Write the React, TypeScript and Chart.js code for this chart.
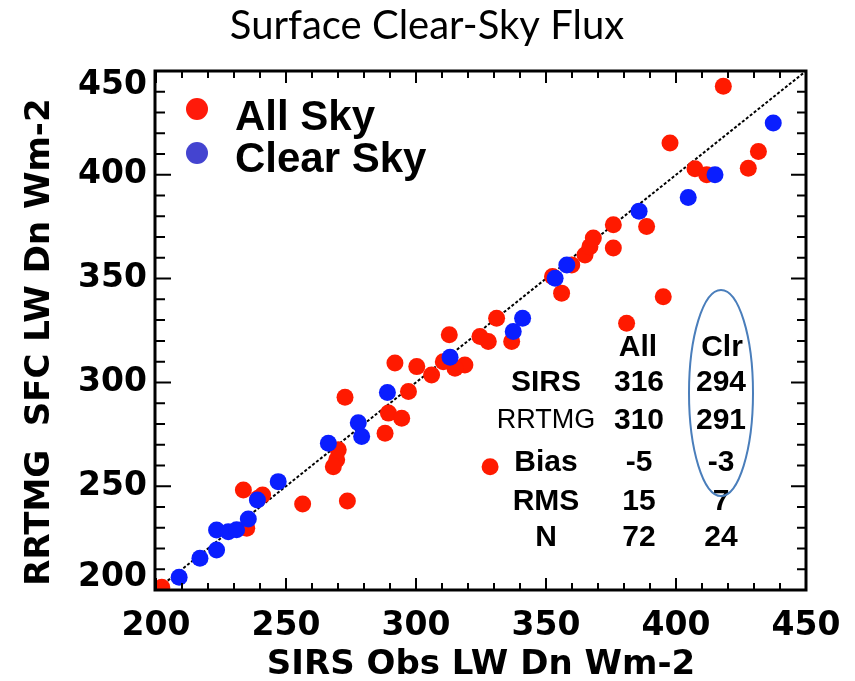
import React, { useEffect, useRef } from "react";
import { Chart, registerables } from "chart.js";

Chart.register(...registerables);

// Clear-sky points (SIRS obs, RRTMG)
const clearX = [208.9, 216.9, 223.3, 223.3, 227.8, 231.0, 235.5, 239.0, 247.0, 266.3, 277.8, 279.1, 289.0, 313.1, 337.4, 341.0, 353.5, 358.0, 385.8, 404.7, 415.0, 437.4];
const clearY = [206.1, 215.3, 219.3, 228.9, 228.1, 229.0, 234.2, 243.4, 252.2, 270.7, 280.6, 273.9, 295.1, 312.1, 324.5, 330.9, 350.2, 356.6, 382.5, 389.1, 400.0, 424.9];

// All-sky points
const allX = [202.2, 234.9, 239.3, 241.0, 233.6, 256.4, 273.6, 269.5, 268.2, 270.1, 272.7, 288.1, 289.4, 294.5, 297.1, 291.9, 300.3, 306.0, 310.5, 318.8, 315.0, 312.8, 324.6, 327.8, 331.0, 328.5, 336.8, 381.0, 356.0, 352.5, 359.9, 365.0, 366.9, 368.2, 375.9, 375.9, 388.7, 395.1, 397.7, 407.3, 411.8, 418.2, 427.8, 431.7];
const allY = [201.3, 229.7, 244.2, 245.8, 248.2, 241.4, 242.9, 262.7, 259.4, 267.5, 292.9, 275.5, 285.2, 282.7, 295.6, 309.3, 307.6, 303.6, 310.0, 308.4, 306.8, 322.9, 322.1, 319.7, 330.9, 259.4, 319.7, 328.5, 343.0, 351.0, 356.6, 361.4, 365.4, 369.5, 364.7, 375.9, 375.1, 341.3, 415.3, 402.9, 400.0, 442.6, 403.2, 411.2];

const diagX = [200, 450];
const xTickLabels = [200, 250, 300, 350, 400, 450];
const yTickLabels = [200, 250, 300, 350, 400, 450];

const chartTitle = "Surface Clear-Sky Flux";
const xTitle = "SIRS Obs LW Dn Wm-2";
const yTitle = "RRTMG  SFC LW Dn Wm-2";
const legendLabels = ["All Sky", "Clear Sky"];

const tableHeaders = ["All", "Clr"];
const tableRows = ["SIRS", "RRTMG", "Bias", "RMS", "N"];
const allStats = ["316", "310", "-5", "15", "72"];
const clrStats = ["294", "291", "-3", "7", "24"];

const RED = "#ff1a00";
const BLUE = "#0a1eff";

const decor = {
  id: "decor",
  afterDatasetsDraw(chart: any) {
    const { ctx, chartArea: ca, scales } = chart;
    const xs = scales.x;
    const ys = scales.y;
    ctx.save();
    // ticks
    ctx.strokeStyle = "#000";
    ctx.lineWidth = 2;
    for (let v = 200; v <= 450; v += 10) {
      const major = v % 50 === 0;
      const lenH = major ? 12 : 7;
      const lenV = major ? 15 : 9;
      const px = xs.getPixelForValue(v);
      const py = ys.getPixelForValue(v);
      ctx.beginPath();
      ctx.moveTo(px, ca.bottom);
      ctx.lineTo(px, ca.bottom - lenH);
      ctx.moveTo(px, ca.top);
      ctx.lineTo(px, ca.top + lenH);
      ctx.moveTo(ca.left, py);
      ctx.lineTo(ca.left + lenV, py);
      ctx.moveTo(ca.right, py);
      ctx.lineTo(ca.right - lenV, py);
      ctx.stroke();
    }
    // frame
    ctx.lineWidth = 3;
    ctx.strokeRect(ca.left - 1, ca.top, ca.right - ca.left + 1, ca.bottom - ca.top);
    ctx.restore();
  },
  afterDraw(chart: any) {
    const { ctx, chartArea: ca, scales } = chart;
    const xs = scales.x;
    const ys = scales.y;
    ctx.save();
    ctx.fillStyle = "#000";

    // title
    ctx.font = "40px Lato";
    ctx.textAlign = "center";
    ctx.textBaseline = "middle";
    ctx.fillText(chartTitle, 427, 26);

    // tick labels
    ctx.font = "bold 33px 'DejaVu Sans'";
    ctx.textAlign = "center";
    ctx.textBaseline = "middle";
    xTickLabels.forEach((v) => {
      ctx.fillText(String(v), xs.getPixelForValue(v), 626);
    });
    ctx.textAlign = "right";
    yTickLabels.forEach((v, i) => {
      let py = ys.getPixelForValue(v);
      if (i === 0) py -= 13;
      if (i === yTickLabels.length - 1) py += 14;
      ctx.fillText(String(v), ca.left - 9, py);
    });

    // axis titles
    ctx.font = "bold 34px 'DejaVu Sans'";
    ctx.textAlign = "center";
    ctx.textBaseline = "middle";
    ctx.fillText(xTitle, (ca.left + ca.right) / 2, 665);
    ctx.save();
    ctx.translate(40, 342);
    ctx.rotate(-Math.PI / 2);
    ctx.fillText(yTitle, 0, 0);
    ctx.restore();

    // legend
    const legColors = ["#ff1a0a", "#4444d0"];
    const legY = [109, 153];
    const legBase = [130, 172];
    legendLabels.forEach((lab, i) => {
      ctx.fillStyle = legColors[i];
      ctx.beginPath();
      ctx.arc(197, legY[i], 11, 0, Math.PI * 2);
      ctx.fill();
      ctx.fillStyle = "#000";
      ctx.font = "bold 42px 'Liberation Sans'";
      ctx.textAlign = "left";
      ctx.textBaseline = "alphabetic";
      ctx.fillText(lab, 235, legBase[i]);
    });

    // stats table
    ctx.textAlign = "center";
    ctx.textBaseline = "middle";
    ctx.font = "bold 30px 'Liberation Sans'";
    ctx.fillText(tableHeaders[0], 638, 348);
    ctx.fillText(tableHeaders[1], 722, 348);
    const rowY = [383, 421, 463, 502, 538];
    tableRows.forEach((r, i) => {
      ctx.font = r === "RRTMG" ? "27px 'Liberation Sans'" : "bold 30px 'Liberation Sans'";
      ctx.fillText(r, 546, rowY[i]);
      ctx.font = "bold 30px 'Liberation Sans'";
      ctx.fillText(allStats[i], 639, rowY[i]);
      ctx.fillText(clrStats[i], 721, rowY[i]);
    });

    // ellipse
    ctx.strokeStyle = "#4a7ebb";
    ctx.lineWidth = 2;
    ctx.beginPath();
    ctx.ellipse(721, 393, 32, 103, 0, 0, Math.PI * 2);
    ctx.stroke();

    ctx.restore();
  },
};

export default function App() {
  const ref = useRef<HTMLCanvasElement | null>(null);
  useEffect(() => {
    if (!ref.current) return;
    const chart = new Chart(ref.current, {
      type: "scatter",
      data: {
        datasets: [
          {
            type: "line",
            label: "1:1",
            data: diagX.map((v) => ({ x: v, y: v })),
            borderColor: "#000",
            borderWidth: 2,
            borderDash: [3, 2],
            pointRadius: 0,
            order: 3,
            clip: 0,
          } as any,
          {
            label: "All Sky",
            data: allX.map((x, i) => ({ x, y: allY[i] })),
            backgroundColor: RED,
            borderWidth: 0,
            pointRadius: 8.5,
            order: 2,
            clip: 0,
          },
          {
            label: "Clear Sky",
            data: clearX.map((x, i) => ({ x, y: clearY[i] })),
            backgroundColor: BLUE,
            borderWidth: 0,
            pointRadius: 8.5,
            order: 1,
            clip: 0,
          },
        ],
      },
      options: {
        responsive: false,
        animation: false,
        devicePixelRatio: 1,
        layout: { padding: { left: 156, right: 49, top: 71, bottom: 91 } },
        scales: {
          x: { type: "linear", min: 200, max: 450, display: false },
          y: { type: "linear", min: 200, max: 450, display: false },
        },
        plugins: {
          legend: { display: false },
          tooltip: { enabled: false },
        },
      },
      plugins: [decor],
    });
    return () => chart.destroy();
  }, []);
  return (
    <div style={{ position: "fixed", left: 0, top: 0, width: 855, height: 681, background: "#fff" }}>
      <canvas ref={ref} width={855} height={681} />
    </div>
  );
}
